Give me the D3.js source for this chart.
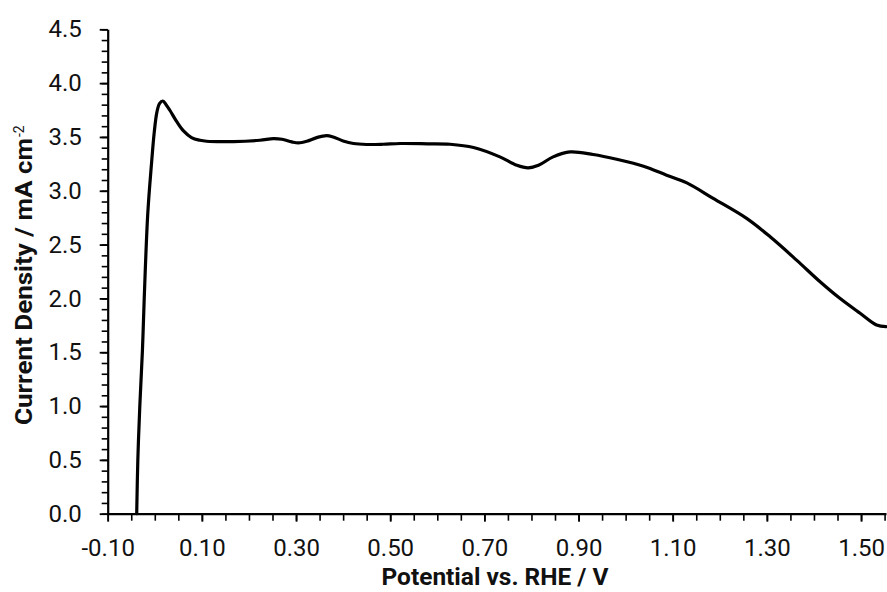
<!DOCTYPE html>
<html>
<head>
<meta charset="utf-8">
<script src="https://cdn.jsdelivr.net/npm/d3@7/dist/d3.min.js"></script>
<style>
  html, body { margin: 0; padding: 0; background: #fff; }
  svg { display: block; }
  .tick text { font-family: Roboto, "Liberation Sans", sans-serif; }
</style>
</head>
<body>
<svg id="chart" width="887" height="592"></svg>
<script>
// Potential vs. RHE (V)
const potential = [-0.0384, -0.0360, -0.0318, -0.0262, -0.0225, -0.0150, -0.0072, -0.0010, 0.0045, 0.010, 0.017, 0.024, 0.032, 0.047, 0.061, 0.078, 0.096, 0.110, 0.167, 0.223, 0.252, 0.270, 0.291, 0.305, 0.323, 0.344, 0.365, 0.379, 0.400, 0.422, 0.450, 0.485, 0.521, 0.580, 0.627, 0.677, 0.733, 0.769, 0.793, 0.815, 0.846, 0.882, 0.931, 0.981, 1.038, 1.087, 1.130, 1.186, 1.257, 1.307, 1.363, 1.413, 1.455, 1.498, 1.533, 1.553];
// Current density (mA cm-2)
const currentDensity = [0.00, 0.50, 1.00, 1.52, 1.99, 2.78, 3.24, 3.55, 3.73, 3.81, 3.834, 3.80, 3.748, 3.64, 3.556, 3.494, 3.469, 3.460, 3.457, 3.469, 3.485, 3.479, 3.454, 3.444, 3.460, 3.494, 3.513, 3.500, 3.463, 3.439, 3.430, 3.432, 3.439, 3.436, 3.432, 3.402, 3.315, 3.237, 3.213, 3.237, 3.315, 3.361, 3.337, 3.293, 3.228, 3.145, 3.073, 2.929, 2.743, 2.572, 2.356, 2.155, 2.001, 1.862, 1.753, 1.738];

const xMajorTicks = [-0.10, 0.10, 0.30, 0.50, 0.70, 0.90, 1.10, 1.30, 1.50];
const xMinorTicks = [-0.10, -0.05, 0.00, 0.05, 0.10, 0.15, 0.20, 0.25, 0.30, 0.35, 0.40, 0.45, 0.50, 0.55, 0.60, 0.65, 0.70, 0.75, 0.80, 0.85, 0.90, 0.95, 1.00, 1.05, 1.10, 1.15, 1.20, 1.25, 1.30, 1.35, 1.40, 1.45, 1.50, 1.55];
const yMajorTicks = [0.0, 0.5, 1.0, 1.5, 2.0, 2.5, 3.0, 3.5, 4.0, 4.5];
const yMinorTicks = [0.0, 0.1, 0.2, 0.3, 0.4, 0.5, 0.6, 0.7, 0.8, 0.9, 1.0, 1.1, 1.2, 1.3, 1.4, 1.5, 1.6, 1.7, 1.8, 1.9, 2.0, 2.1, 2.2, 2.3, 2.4, 2.5, 2.6, 2.7, 2.8, 2.9, 3.0, 3.1, 3.2, 3.3, 3.4, 3.5, 3.6, 3.7, 3.8, 3.9, 4.0, 4.1, 4.2, 4.3, 4.4, 4.5];
const xDomain = [-0.10, 1.553];
const yDomain = [0, 4.5];
const xTitle = "Potential vs. RHE / V";
const yTitleMain = "Current Density / mA cm";
const yTitleSup = "-2";

const svg = d3.select("#chart");
const x = d3.scaleLinear().domain(xDomain).range([107.7, 886]);
const y = d3.scaleLinear().domain(yDomain).range([513.7, 29.3]);

// Minor ticks
svg.append("g")
  .attr("transform", `translate(0,${y(0)})`)
  .call(d3.axisBottom(x).tickValues(xMinorTicks).tickSize(7).tickFormat(""))
  .call(g => g.select(".domain").remove())
  .call(g => g.selectAll("line").attr("stroke", "#000").attr("stroke-width", 1.6));
svg.append("g")
  .attr("transform", `translate(${x(xDomain[0])},0)`)
  .call(d3.axisLeft(y).tickValues(yMinorTicks).tickSize(6).tickFormat(""))
  .call(g => g.select(".domain").remove())
  .call(g => g.selectAll("line").attr("stroke", "#000").attr("stroke-width", 1.6));

// Major axes
const xAxis = svg.append("g")
  .attr("transform", `translate(0,${y(0)})`)
  .call(d3.axisBottom(x).tickValues(xMajorTicks).tickSize(8).tickSizeOuter(0).tickPadding(17)
    .tickFormat(d => d3.format(".2f")(d).replace("−", "-")));
xAxis.select(".domain").attr("stroke", "#000").attr("stroke-width", 2.2);
xAxis.selectAll(".tick line").attr("stroke", "#000").attr("stroke-width", 1.8);
xAxis.selectAll(".tick text").attr("font-size", 24).attr("fill", "#111");

const yAxis = svg.append("g")
  .attr("transform", `translate(${x(xDomain[0])},0)`)
  .call(d3.axisLeft(y).tickValues(yMajorTicks).tickSize(8).tickSizeOuter(0).tickPadding(18)
    .tickFormat(d3.format(".1f")));
yAxis.select(".domain").attr("stroke", "#000").attr("stroke-width", 2.2);
yAxis.selectAll(".tick line").attr("stroke", "#000").attr("stroke-width", 1.8);
yAxis.selectAll(".tick text").attr("font-size", 24).attr("fill", "#111");

// Curve
const data = potential.map((v, i) => ({ v, j: currentDensity[i] }));
svg.append("path")
  .datum(data)
  .attr("fill", "none")
  .attr("stroke", "#000")
  .attr("stroke-width", 3.2)
  .attr("stroke-linejoin", "round")
  .attr("stroke-linecap", "round")
  .attr("d", d3.line().x(d => x(d.v)).y(d => y(d.j)).curve(d3.curveCatmullRom.alpha(0.5)));

// Axis titles
svg.append("text")
  .attr("x", 495).attr("y", 585)
  .attr("text-anchor", "middle")
  .attr("font-family", "Roboto, 'Liberation Sans', sans-serif")
  .attr("font-weight", 700)
  .attr("font-size", 23)
  .attr("textLength", 227)
  .attr("lengthAdjust", "spacingAndGlyphs")
  .attr("fill", "#111")
  .text(xTitle);

svg.append("text")
  .attr("transform", "translate(32,425) rotate(-90)")
  .attr("text-anchor", "start")
  .attr("font-family", "Roboto, 'Liberation Sans', sans-serif")
  .attr("font-weight", 700)
  .attr("font-size", 23)
  .attr("textLength", 287)
  .attr("lengthAdjust", "spacingAndGlyphs")
  .attr("fill", "#111")
  .text(yTitleMain);
svg.append("text")
  .attr("transform", "translate(24,137) rotate(-90)")
  .attr("text-anchor", "start")
  .attr("font-family", "Roboto, 'Liberation Sans', sans-serif")
  .attr("font-size", 14)
  .attr("fill", "#111")
  .text(yTitleSup);
</script>
</body>
</html>
